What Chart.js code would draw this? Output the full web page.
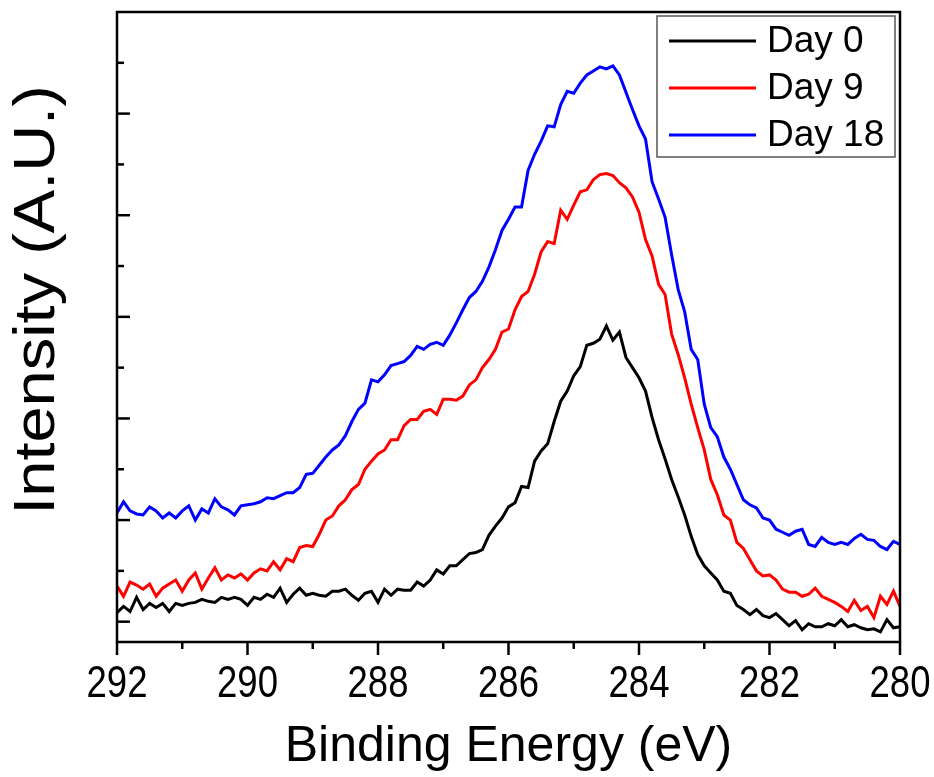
<!DOCTYPE html>
<html>
<head>
<meta charset="utf-8">
<script src="https://cdn.jsdelivr.net/npm/chart.js@4.4.1/dist/chart.umd.min.js"></script>
<style>
html,body{margin:0;padding:0;background:#fff;}
#wrap{width:934px;height:777px;position:relative;}
</style>
</head>
<body>
<div id="wrap"><canvas id="c" width="934" height="777"></canvas></div>
<script>
// Binding energy (eV), from 292.0 down to 280.0
const energies = [
292.0,291.9,291.8,291.7,291.6,291.5,291.4,291.3,291.2,291.1,
291.0,290.9,290.8,290.7,290.6,290.5,290.4,290.3,290.2,290.1,
290.0,289.9,289.8,289.7,289.6,289.5,289.4,289.3,289.2,289.1,
289.0,288.9,288.8,288.7,288.6,288.5,288.4,288.3,288.2,288.1,
288.0,287.9,287.8,287.7,287.6,287.5,287.4,287.3,287.2,287.1,
287.0,286.9,286.8,286.7,286.6,286.5,286.4,286.3,286.2,286.1,
286.0,285.9,285.8,285.7,285.6,285.5,285.4,285.3,285.2,285.1,
285.0,284.9,284.8,284.7,284.6,284.5,284.4,284.3,284.2,284.1,
284.0,283.9,283.8,283.7,283.6,283.5,283.4,283.3,283.2,283.1,
283.0,282.9,282.8,282.7,282.6,282.5,282.4,282.3,282.2,282.1,
282.0,281.9,281.8,281.7,281.6,281.5,281.4,281.3,281.2,281.1,
281.0,280.9,280.8,280.7,280.6,280.5,280.4,280.3,280.2,280.1,
280.0];

const day0 = [
0.09,0.15,0.10,0.24,0.12,0.18,0.14,0.18,0.10,0.18,
0.16,0.18,0.19,0.22,0.20,0.19,0.24,0.22,0.24,0.22,
0.16,0.24,0.22,0.27,0.24,0.33,0.19,0.27,0.33,0.26,
0.28,0.26,0.25,0.30,0.30,0.32,0.26,0.21,0.28,0.30,
0.19,0.32,0.26,0.32,0.31,0.31,0.39,0.35,0.41,0.51,
0.47,0.55,0.55,0.61,0.67,0.68,0.71,0.85,0.94,1.02,
1.13,1.17,1.33,1.32,1.58,1.68,1.75,1.97,2.17,2.27,
2.42,2.51,2.72,2.74,2.78,2.91,2.77,2.85,2.60,2.50,
2.40,2.27,2.01,1.79,1.60,1.40,1.23,1.05,0.84,0.66,
0.55,0.48,0.41,0.30,0.28,0.16,0.12,0.07,0.12,0.06,
0.04,0.08,0.02,-0.04,0.01,-0.08,-0.02,-0.05,-0.05,-0.02,
-0.04,0.02,-0.05,-0.03,-0.06,-0.08,-0.07,-0.10,0.02,-0.06,
-0.05];

const day9 = [
0.35,0.25,0.39,0.36,0.32,0.37,0.25,0.33,0.37,0.41,
0.30,0.41,0.48,0.32,0.43,0.53,0.41,0.46,0.43,0.47,
0.41,0.48,0.52,0.50,0.59,0.51,0.62,0.59,0.73,0.75,
0.74,0.86,1.00,1.04,1.14,1.20,1.30,1.35,1.50,1.58,
1.65,1.69,1.79,1.79,1.93,1.99,1.99,2.07,2.09,2.04,
2.19,2.19,2.18,2.22,2.33,2.38,2.50,2.58,2.68,2.85,
2.88,3.07,3.20,3.25,3.42,3.64,3.74,3.72,4.05,3.96,
4.10,4.23,4.25,4.35,4.40,4.41,4.39,4.32,4.27,4.18,
4.03,3.76,3.60,3.32,3.22,2.83,2.63,2.40,2.14,1.91,
1.69,1.40,1.25,1.05,1.00,0.78,0.72,0.61,0.50,0.45,
0.46,0.41,0.32,0.29,0.29,0.25,0.27,0.33,0.25,0.22,
0.19,0.15,0.10,0.21,0.11,0.15,0.04,0.25,0.17,0.30,
0.15];

const day18 = [
1.07,1.18,1.09,1.06,1.05,1.13,1.09,1.02,1.07,1.02,
1.09,1.14,1.00,1.11,1.07,1.21,1.13,1.10,1.05,1.14,
1.15,1.16,1.18,1.22,1.21,1.24,1.27,1.27,1.32,1.45,
1.46,1.54,1.62,1.69,1.74,1.83,1.97,2.09,2.15,2.38,
2.36,2.43,2.52,2.54,2.56,2.62,2.71,2.68,2.73,2.75,
2.72,2.82,2.94,3.07,3.19,3.25,3.35,3.49,3.66,3.85,
3.96,4.08,4.08,4.44,4.60,4.73,4.88,4.87,5.09,5.22,
5.20,5.30,5.38,5.42,5.46,5.44,5.47,5.38,5.21,5.04,
4.88,4.75,4.33,4.16,3.98,3.61,3.27,3.05,2.68,2.58,
2.14,1.91,1.82,1.62,1.50,1.35,1.20,1.15,1.12,1.02,
1.00,0.91,0.88,0.85,0.89,0.91,0.76,0.74,0.83,0.78,
0.76,0.78,0.76,0.82,0.86,0.81,0.80,0.74,0.71,0.79,
0.76];

const seriesLabels = ['Day 0', 'Day 9', 'Day 18'];
const seriesColors = ['#000000', '#ff0000', '#0000ff'];
const xMajorTicks = [292, 290, 288, 286, 284, 282, 280];
const xTickLabels = ['292', '290', '288', '286', '284', '282', '280'];
const xMinorTicks = [291, 289, 287, 285, 283, 281];
const yMajorTicks = [0, 1, 2, 3, 4, 5];
const yMinorTicks = [0.5, 1.5, 2.5, 3.5, 4.5, 5.5];
const xTitle = 'Binding Energy (eV)';
const yTitle = 'Intensity (A.U.)';

const SANS = "'Liberation Sans', Arial, sans-serif";

function toPoints(vals) { return vals.map((v, i) => ({x: energies[i], y: v})); }

const decor = {
  id: 'decor',
  afterDatasetsDraw(chart) {
    const {ctx, chartArea: a, scales} = chart;
    const xs = scales.x, ys = scales.y;
    ctx.save();
    ctx.strokeStyle = '#000';
    ctx.lineWidth = 2.5;
    ctx.lineCap = 'butt';
    const seg = (x1, y1, x2, y2) => { ctx.beginPath(); ctx.moveTo(x1, y1); ctx.lineTo(x2, y2); ctx.stroke(); };
    // frame
    ctx.strokeRect(a.left, a.top, a.right - a.left, a.bottom - a.top);
    // x ticks (outward)
    xMajorTicks.forEach(v => { const p = xs.getPixelForValue(v); seg(p, a.bottom, p, a.bottom + 13); });
    xMinorTicks.forEach(v => { const p = xs.getPixelForValue(v); seg(p, a.bottom, p, a.bottom + 7); });
    // y ticks (inward)
    yMajorTicks.forEach(v => { const p = ys.getPixelForValue(v); seg(a.left, p, a.left + 13, p); });
    yMinorTicks.forEach(v => { const p = ys.getPixelForValue(v); seg(a.left, p, a.left + 7, p); });

    // x tick labels (condensed, as in the reference)
    ctx.fillStyle = '#000';
    ctx.font = '44px ' + SANS;
    ctx.textAlign = 'center';
    ctx.textBaseline = 'alphabetic';
    xMajorTicks.forEach((v, i) => {
      const p = xs.getPixelForValue(v);
      ctx.save();
      ctx.translate(p, a.bottom + 55);
      ctx.scale(0.83, 1);
      ctx.fillText(xTickLabels[i], 0, 0);
      ctx.restore();
    });

    // y title
    ctx.save();
    ctx.translate(38, 300);
    ctx.rotate(-Math.PI / 2);
    ctx.scale(1.12, 1);
    ctx.fillStyle = '#000';
    ctx.font = '58px ' + SANS;
    ctx.textAlign = 'center';
    ctx.textBaseline = 'middle';
    ctx.fillText(yTitle, 0, 0);
    ctx.restore();

    // legend
    const lx = a.right - 243, ly = a.top + 4, lw = 238, lh = 141;
    ctx.fillStyle = '#fff';
    ctx.fillRect(lx, ly, lw, lh);
    ctx.strokeStyle = '#555';
    ctx.lineWidth = 1.5;
    ctx.strokeRect(lx, ly, lw, lh);
    chart.data.datasets.forEach((ds, i) => {
      const yy = ly + 25 + i * 47;
      ctx.strokeStyle = ds.borderColor;
      ctx.lineWidth = 3;
      seg(lx + 12, yy, lx + 99, yy);
      ctx.fillStyle = '#000';
      ctx.font = '37px ' + SANS;
      ctx.textAlign = 'left';
      ctx.textBaseline = 'middle';
      ctx.fillText(ds.label, lx + 110, yy + 1);
    });
    ctx.restore();
  }
};

new Chart(document.getElementById('c'), {
  type: 'line',
  data: {
    datasets: [
      {label: seriesLabels[0], data: toPoints(day0), borderColor: seriesColors[0]},
      {label: seriesLabels[1], data: toPoints(day9), borderColor: seriesColors[1]},
      {label: seriesLabels[2], data: toPoints(day18), borderColor: seriesColors[2]}
    ]
  },
  options: {
    responsive: false,
    animation: false,
    devicePixelRatio: 1,
    layout: {padding: {top: 12, right: 34, left: 0, bottom: 0}},
    elements: {
      line: {borderWidth: 3, tension: 0, fill: false},
      point: {radius: 0, hoverRadius: 0}
    },
    plugins: {legend: {display: false}, tooltip: {enabled: false}},
    scales: {
      x: {
        type: 'linear',
        min: 280, max: 292, reverse: true,
        grid: {display: false, drawTicks: false},
        border: {display: false},
        afterBuildTicks: s => { s.ticks = xMajorTicks.map(v => ({value: v})); },
        afterFit: s => { s.height = 135; s.paddingLeft = 0; s.paddingRight = 0; },
        ticks: {display: false},
        title: {display: true, text: xTitle, color: '#000', font: {family: SANS, size: 50}, padding: {top: 0, bottom: 0}}
      },
      y: {
        type: 'linear',
        min: -0.2, max: 6.0,
        grid: {display: false, drawTicks: false},
        border: {display: false},
        afterFit: s => { s.width = 117; s.paddingTop = 0; s.paddingBottom = 0; },
        ticks: {display: false},
        title: {display: false}
      }
    }
  },
  plugins: [decor]
});
</script>
</body>
</html>
